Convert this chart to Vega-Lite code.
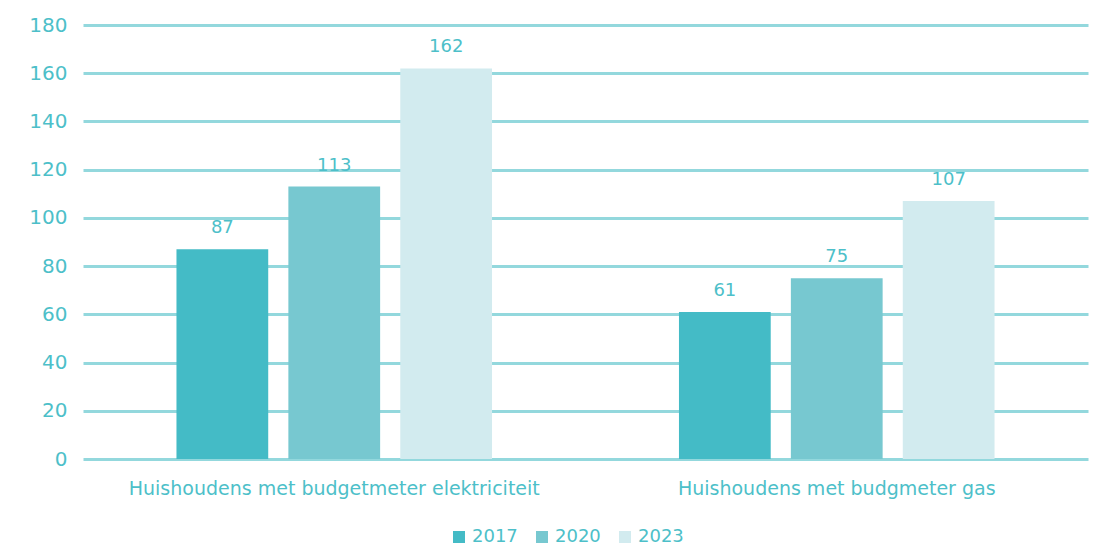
{
  "$schema": "https://vega.github.io/schema/vega-lite/v6.json",
  "width": 1005,
  "height": 434,
  "autosize": {"type": "none"},
  "padding": {"left": 83, "top": 25, "right": 7, "bottom": 89},
  "background": "white",
  "config": {
    "view": {"stroke": null},
    "font": "DejaVu Sans",
    "axis": {"labelColor": "#4DBFC9", "labelFont": "DejaVu Sans", "labelFontWeight": "normal"}
  },
  "data": {
    "values": [
      {"categorie": "Huishoudens met budgetmeter elektriciteit", "jaar": "2017", "waarde": 87},
      {"categorie": "Huishoudens met budgetmeter elektriciteit", "jaar": "2020", "waarde": 113},
      {"categorie": "Huishoudens met budgetmeter elektriciteit", "jaar": "2023", "waarde": 162},
      {"categorie": "Huishoudens met budgmeter gas", "jaar": "2017", "waarde": 61},
      {"categorie": "Huishoudens met budgmeter gas", "jaar": "2020", "waarde": 75},
      {"categorie": "Huishoudens met budgmeter gas", "jaar": "2023", "waarde": 107}
    ]
  },
  "encoding": {
    "x": {
      "field": "categorie", "type": "nominal", "sort": null,
      "scale": {"paddingInner": 0.372, "paddingOuter": 0.186},
      "axis": {"title": null, "labelAngle": 0, "domain": false, "ticks": false, "labelFontSize": 19, "labelPadding": 20, "labelLimit": 600}
    },
    "xOffset": {"field": "jaar", "type": "nominal", "scale": {"paddingInner": 0.18, "paddingOuter": 0}},
    "y": {
      "field": "waarde", "type": "quantitative",
      "scale": {"domain": [0, 180]},
      "axis": {"title": null, "values": [0,20,40,60,80,100,120,140,160,180], "domain": false, "ticks": false, "labelFontSize": 20, "labelPadding": 16, "gridColor": "#93D8DD", "gridWidth": 3, "gridOpacity": 1}
    }
  },
  "layer": [
    {
      "mark": {"type": "bar"},
      "encoding": {
        "color": {
          "field": "jaar", "type": "nominal",
          "scale": {"domain": ["2017", "2020", "2023"], "range": ["#44BBC6", "#77C8D0", "#D2EBEF"]},
          "legend": {
            "title": null, "orient": "none", "direction": "horizontal",
            "legendX": 367, "legendY": 503,
            "symbolType": "square", "symbolSize": 144, "symbolStrokeWidth": 0,
            "labelFont": "DejaVu Sans", "labelFontSize": 18, "labelColor": "#4DBFC9", "labelFontWeight": "normal",
            "columnPadding": 15, "labelOffset": 4
          }
        }
      }
    },
    {
      "mark": {"type": "text", "baseline": "bottom", "dy": -12, "fontSize": 18, "color": "#4DBFC9", "font": "DejaVu Sans"},
      "encoding": {"text": {"field": "waarde", "type": "quantitative"}}
    }
  ]
}
